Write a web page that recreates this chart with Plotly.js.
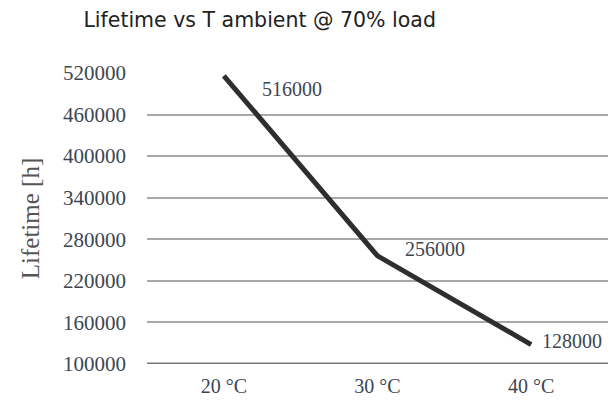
<!DOCTYPE html>
<html><head><meta charset="utf-8">
<script src="https://cdn.plot.ly/plotly-3.0.1.min.js"></script>
<style>html,body{margin:0;padding:0;background:#fff}#c{width:611px;height:403px}</style>
</head><body><div id="c"></div>
<script>
const categories = ["20 °C", "30 °C", "40 °C"];
const lifetime = [516000, 256000, 128000];
const yTicks = [100000, 160000, 220000, 280000, 340000, 400000, 460000, 520000];
const labelShifts = [[36, -13], [25, 7], [9, 4]];

const trace = {
  x: categories, y: lifetime, type: "scatter", mode: "lines",
  line: {color: "#2e2e2e", width: 5}, hoverinfo: "none"
};
const annotations = categories.map((c, i) => ({
  x: c, y: lifetime[i], xref: "x", yref: "y", text: String(lifetime[i]),
  showarrow: false, xanchor: "left", yanchor: "middle",
  xshift: labelShifts[i][0], yshift: labelShifts[i][1],
  font: {family: "Liberation Serif, serif", size: 20, color: "#3c4652"}
}));
const layout = {
  width: 611, height: 403,
  margin: {l: 147, r: 3, t: 73, b: 39},
  paper_bgcolor: "#fff", plot_bgcolor: "#fff",
  showlegend: false,
  title: {text: "Lifetime vs T ambient @ 70% load", x: 0.425, xanchor: "center", y: 0.95, yanchor: "middle",
    font: {family: "DejaVu Sans, sans-serif", size: 20.5, color: "#222"}},
  xaxis: {type: "category", range: [-0.5, 2.5], showgrid: false, zeroline: false, showline: false,
    ticks: "", tickfont: {family: "Liberation Serif, serif", size: 20, color: "#3c4652"}, ticklabelstandoff: 8},
  yaxis: {range: [100000, 520000], tickvals: yTicks, ticktext: yTicks.map(String),
    showgrid: true, gridcolor: "#a8a8a8", gridwidth: 2, zeroline: false, showline: false, ticks: "",
    tickfont: {family: "Liberation Serif, serif", size: 21, color: "#3c4652"}, ticklabelstandoff: 20,
    title: {text: "Lifetime [h]", standoff: 16, font: {family: "Liberation Serif, serif", size: 25, color: "#555"}}},
  shapes: [{type: "line", xref: "paper", yref: "y", x0: 0, x1: 1, y0: yTicks[0], y1: yTicks[0],
    line: {color: "#777", width: 3}}],
  annotations: annotations
};
Plotly.newPlot("c", [trace], layout, {staticPlot: true, displayModeBar: false});
</script></body></html>
